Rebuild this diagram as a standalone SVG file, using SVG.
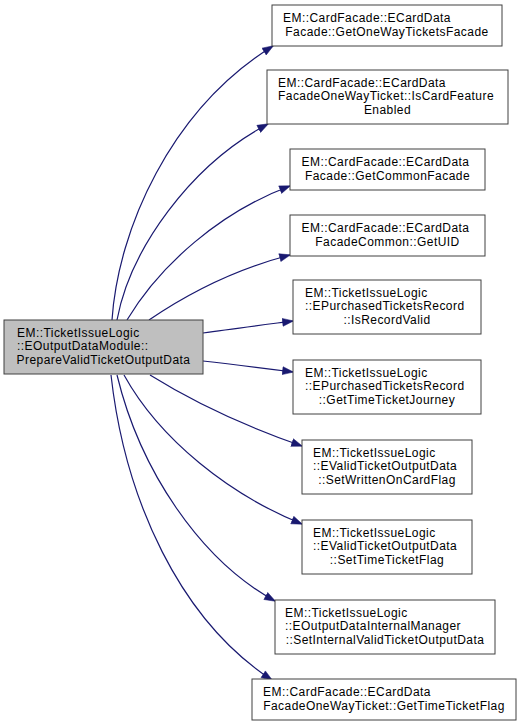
<svg xmlns="http://www.w3.org/2000/svg" width="528" height="725" viewBox="0 0 528 725">
<style>
.box{fill:#ffffff;stroke:#404040;stroke-width:1}
.src{fill:#bfbfbf;stroke:#404040;stroke-width:1}
text{font-family:"Liberation Sans",Arial,sans-serif;font-size:12px;letter-spacing:0.45px;fill:#000}
.c{text-anchor:middle}
.e{fill:none;stroke:#191970;stroke-width:1.2;marker-end:url(#ah)}
</style>
<defs>
<marker id="ah" markerUnits="userSpaceOnUse" markerWidth="12" markerHeight="10" viewBox="0 -5 11 10" refX="10.5" refY="0" orient="auto">
<path d="M0,-4 L11,0 L0,4 z" fill="#191970" stroke="#191970" stroke-width="0.5"/>
</marker>
</defs>
<rect width="528" height="725" fill="#ffffff"/>
<g id="connectors">
<path class="e" d="M112,320 C118,230 170,110 273,46"/>
<path class="e" d="M117,320 C130,250 190,165 268,124"/>
<path class="e" d="M127,320 C160,265 220,212 290,186"/>
<path class="e" d="M149,320 C190,292 240,268 290,255"/>
<path class="e" d="M203,333 C230,329 262,325 293,321"/>
<path class="e" d="M203,361 C230,364 262,368 293,372"/>
<path class="e" d="M150,375 C195,403 250,428 302,446"/>
<path class="e" d="M124,375 C160,440 230,495 302,524"/>
<path class="e" d="M117,375 C140,470 200,560 275,601"/>
<path class="e" d="M111,375 C125,500 180,620 272,680"/>
</g>
<g id="src">
<rect class="src" x="4" y="320" width="199" height="54"/>
<text x="17" y="336.5">EM::TicketIssueLogic</text>
<text x="17" y="350">::EOutputDataModule::</text>
<text class="c" x="103.5" y="363.5">PrepareValidTicketOutputData</text>
</g>
<g id="n1">
<rect class="box" x="272" y="5" width="230" height="41"/>
<text x="283" y="22">EM::CardFacade::ECardData</text>
<text class="c" x="387" y="35.5">Facade::GetOneWayTicketsFacade</text>
</g>
<g id="n2">
<rect class="box" x="267" y="70" width="241" height="54"/>
<text x="278" y="86.5">EM::CardFacade::ECardData</text>
<text x="278" y="100">FacadeOneWayTicket::IsCardFeature</text>
<text class="c" x="387.5" y="113.5">Enabled</text>
</g>
<g id="n3">
<rect class="box" x="290" y="149" width="195" height="41"/>
<text x="301.5" y="166">EM::CardFacade::ECardData</text>
<text class="c" x="387.5" y="179.5">Facade::GetCommonFacade</text>
</g>
<g id="n4">
<rect class="box" x="290" y="215" width="195" height="41"/>
<text x="301.5" y="232">EM::CardFacade::ECardData</text>
<text class="c" x="387.5" y="245.5">FacadeCommon::GetUID</text>
</g>
<g id="n5">
<rect class="box" x="293" y="280" width="188" height="54"/>
<text x="305" y="296.5">EM::TicketIssueLogic</text>
<text x="305" y="310">::EPurchasedTicketsRecord</text>
<text class="c" x="387" y="323.5">::IsRecordValid</text>
</g>
<g id="n6">
<rect class="box" x="293" y="360" width="188" height="54"/>
<text x="305" y="376.5">EM::TicketIssueLogic</text>
<text x="305" y="390">::EPurchasedTicketsRecord</text>
<text class="c" x="387" y="403.5">::GetTimeTicketJourney</text>
</g>
<g id="n7">
<rect class="box" x="302" y="440" width="170" height="54"/>
<text x="313" y="456.5">EM::TicketIssueLogic</text>
<text x="313" y="470">::EValidTicketOutputData</text>
<text class="c" x="387" y="483.5">::SetWrittenOnCardFlag</text>
</g>
<g id="n8">
<rect class="box" x="302" y="520" width="170" height="54"/>
<text x="313" y="536.5">EM::TicketIssueLogic</text>
<text x="313" y="550">::EValidTicketOutputData</text>
<text class="c" x="387" y="563.5">::SetTimeTicketFlag</text>
</g>
<g id="n9">
<rect class="box" x="275" y="600" width="220" height="54"/>
<text x="285" y="616.5">EM::TicketIssueLogic</text>
<text x="285" y="630">::EOutputDataInternalManager</text>
<text class="c" x="385" y="643.5">::SetInternalValidTicketOutputData</text>
</g>
<g id="n10">
<rect class="box" x="252" y="679" width="264" height="41"/>
<text x="263" y="696">EM::CardFacade::ECardData</text>
<text class="c" x="384" y="709.5">FacadeOneWayTicket::GetTimeTicketFlag</text>
</g>
</svg>
